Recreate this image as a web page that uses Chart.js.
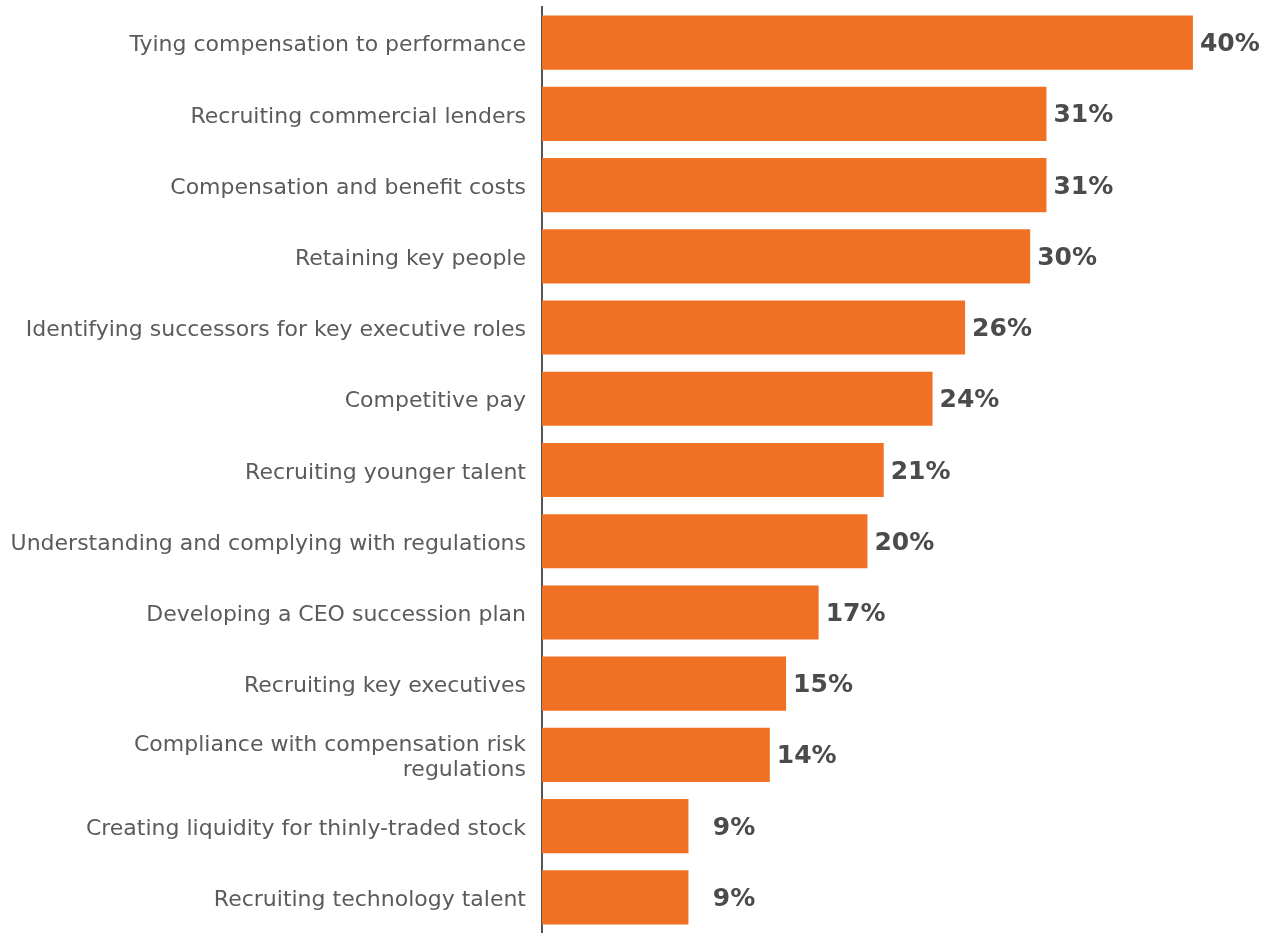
<!DOCTYPE html>
<html>
<head>
<meta charset="utf-8">
<script src="https://cdn.jsdelivr.net/npm/chart.js@4.4.1/dist/chart.umd.min.js"></script>
<style>
  html, body { margin: 0; padding: 0; background: #ffffff; overflow: hidden; }
  #wrap { width: 1269px; height: 933px; position: relative; }
</style>
</head>
<body>
<div id="wrap"><canvas id="c"></canvas></div>
<script>
// Talent-management challenges, share of respondents (%)
const categories = [
  'Tying compensation to performance',
  'Recruiting commercial lenders',
  'Compensation and benefit costs',
  'Retaining key people',
  'Identifying successors for key executive roles',
  'Competitive pay',
  'Recruiting younger talent',
  'Understanding and complying with regulations',
  'Developing a CEO succession plan',
  'Recruiting key executives',
  ['Compliance with compensation risk', 'regulations'],
  'Creating liquidity for thinly-traded stock',
  'Recruiting technology talent'
];
const shares = [40, 31, 31, 30, 26, 24, 21, 20, 17, 15, 14, 9, 9];
const axisMax = 44;

const BAR = '#F07124';
const LABEL_GREY = '#5A5B5D';
const VALUE_GREY = '#4B4B4D';
const VALUE_FONT = 'bold 25px "DejaVu Sans", sans-serif';

// Percentage labels at the end of each bar; single digits keep the slot of a two-digit number
const valueLabels = {
  id: 'valueLabels',
  afterDatasetsDraw(chart) {
    const ctx = chart.ctx;
    const meta = chart.getDatasetMeta(0);
    ctx.save();
    ctx.font = VALUE_FONT;
    ctx.fillStyle = VALUE_GREY;
    ctx.textBaseline = 'middle';
    ctx.textAlign = 'left';
    const digitW = ctx.measureText('0').width;
    meta.data.forEach((bar, i) => {
      const v = shares[i];
      const pad = v < 10 ? digitW : 0;
      ctx.fillText(v + '%', bar.x + 7 + pad, bar.y + 2);
    });
    ctx.restore();
  }
};

new Chart(document.getElementById('c'), {
  type: 'bar',
  data: {
    labels: categories,
    datasets: [{
      data: shares,
      backgroundColor: BAR,
      borderWidth: 0,
      barPercentage: 0.76,
      categoryPercentage: 1.0
    }]
  },
  options: {
    indexAxis: 'y',
    responsive: true,
    maintainAspectRatio: false,
    animation: false,
    layout: { padding: { top: 7, right: 11, bottom: 0, left: 0 } },
    plugins: {
      legend: { display: false },
      tooltip: { enabled: false }
    },
    scales: {
      x: {
        display: false,
        min: 0,
        max: axisMax
      },
      y: {
        afterFit(scale) {
          scale.width = 542;
          scale.paddingTop = 0;
          scale.paddingBottom = 0;
        },
        grid: { display: false, drawTicks: false },
        border: { display: true, color: '#555555', width: 2 },
        ticks: {
          color: LABEL_GREY,
          padding: 16,
          labelOffset: 3,
          font: { family: '"DejaVu Sans", sans-serif', size: 22, lineHeight: 1.15 }
        }
      }
    }
  },
  plugins: [valueLabels]
});
</script>
</body>
</html>
